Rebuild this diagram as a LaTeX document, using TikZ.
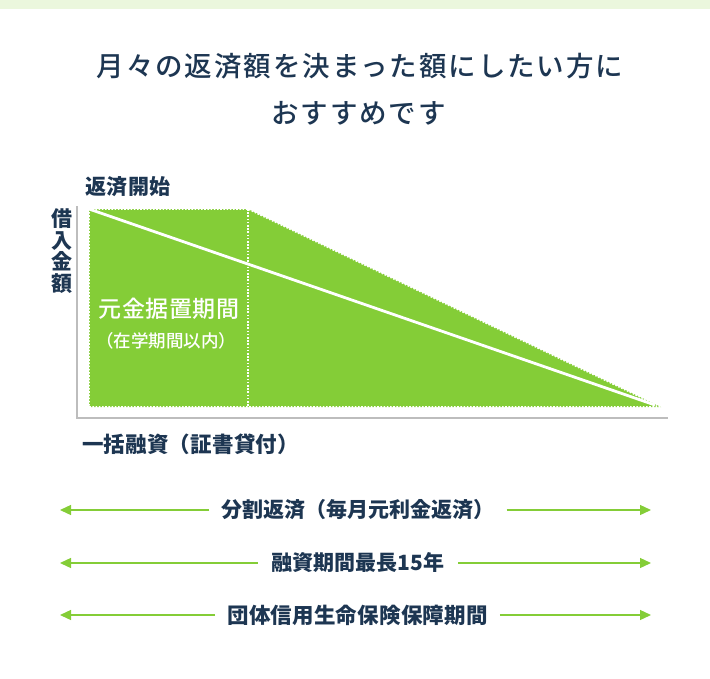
\documentclass[tikz,border=0pt]{standalone}
\usepackage{fontspec}
\setmainfont{Noto Sans CJK JP}
\newfontfamily\medfont{Noto Sans CJK JP Medium}
\usetikzlibrary{arrows.meta}
\definecolor{navy}{HTML}{1D3652}
\definecolor{leaf}{HTML}{84CD37}
\definecolor{band}{HTML}{EBF7DD}
\definecolor{axisgray}{HTML}{BDBDBD}
\tikzset{
  lbl/.style={inner sep=0pt, text=navy, font=\fontsize{21}{24}\selectfont\bfseries},
  ttl/.style={inner sep=0pt, text=navy, font=\medfont\fontsize{27.5}{30}\selectfont\addfontfeatures{LetterSpace=7}},
  arr/.style={draw=leaf, line width=1.3pt, -{Triangle[length=11pt,width=10pt]}},
  dots/.style={draw=white, line width=1.6pt, dash pattern=on 1.6pt off 1.6pt},
}
\begin{document}
\begin{tikzpicture}[x=1pt,y=-1pt]
\useasboundingbox (0,0) rectangle (710,678);
\fill[band] (0,0) rectangle (710,8.5);
% title
\node[ttl] (title1) at (360,66) {月々の返済額を決まった額にしたい方に};
\node[ttl] (title2) at (358.5,113) {おすすめです};
% axes
\coordinate (o) at (77,418);
\coordinate (ytop) at (77,206);
\coordinate (xend) at (668,418);
\draw[axisgray, line width=1.3pt] (ytop) -- (o) -- (xend);
% green area
\coordinate (a) at (89,209);
\coordinate (b) at (248,209);
\coordinate (c) at (661,407);
\coordinate (d) at (89,407);
\coordinate (bb) at (248,407);
\fill[leaf] (a) -- (b) -- (c) -- (d) -- cycle;
\draw[dots] (a) -- (b) -- (c) -- (d) -- cycle;
\draw[dots] (b) -- (bb);
\draw[white, line width=2.8pt] (a) -- (655,405);
% labels
\node[lbl, font=\fontsize{21}{24}\selectfont\bfseries\addfontfeatures{LetterSpace=1}] (start) at (128,187) {返済開始};
\node[lbl, align=center, font=\fontsize{21}{21.5}\selectfont\bfseries] (ylab) at (61.5,251) {借\\入\\金\\額};
\node[inner sep=0pt, text=white, font=\medfont\fontsize{23}{26}\selectfont\addfontfeatures{LetterSpace=2}] (sueoki) at (169,309) {元金据置期間};
\node[inner sep=0pt, text=white, font=\medfont\fontsize{17.5}{20}\selectfont] (zaigaku) at (166,341) {（在学期間以内）};
\node[lbl, font=\fontsize{21.5}{24}\selectfont\bfseries\addfontfeatures{LetterSpace=1}] (ikkatsu) at (190.5,444) {一括融資（証書貸付）};
% arrows
\node[lbl] (t1) at (358,510) {分割返済（毎月元利金返済）};
\node[lbl] (t2) at (358,563) {融資期間最長15年};
\node[lbl, font=\fontsize{21.5}{24}\selectfont\bfseries\addfontfeatures{LetterSpace=1}] (t3) at (357.5,615) {団体信用生命保険保障期間};
\coordinate (l1) at (60,510); \coordinate (r1) at (651,510);
\coordinate (l2) at (60,563); \coordinate (r2) at (651,563);
\coordinate (l3) at (60,615); \coordinate (r3) at (651,615);
\draw[arr] ([xshift=-12pt]t1.west) -- (l1);
\draw[arr] ([xshift=12pt]t1.east) -- (r1);
\draw[arr] ([xshift=-14pt]t2.west) -- (l2);
\draw[arr] ([xshift=14pt]t2.east) -- (r2);
\draw[arr] ([xshift=-12pt]t3.west) -- (l3);
\draw[arr] ([xshift=12pt]t3.east) -- (r3);
\end{tikzpicture}
\end{document}
